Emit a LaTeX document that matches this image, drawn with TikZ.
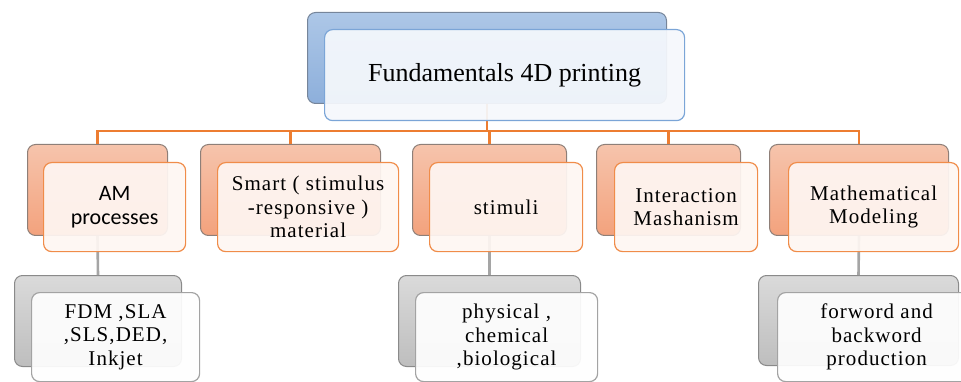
\documentclass[tikz,border=0pt]{standalone}
\usepackage{fontspec}
\setmainfont{Liberation Serif}
\newfontfamily\amfont{Carlito}
\newfontfamily\spacedfont[LetterSpace=5]{Liberation Serif}
\definecolor{blueTop}{HTML}{ADC7E7}
\definecolor{blueBot}{HTML}{8DAFDB}
\definecolor{blueEdge}{HTML}{76859A}
\definecolor{blueFront}{HTML}{F5F8FC}
\definecolor{blueFrontEdge}{HTML}{7BA5D7}
\definecolor{orTop}{HTML}{F6C4AC}
\definecolor{orBot}{HTML}{F3A27D}
\definecolor{orEdge}{HTML}{8E7F78}
\definecolor{orFront}{HTML}{FEF6F2}
\definecolor{orFrontEdge}{HTML}{F08C49}
\definecolor{busCol}{HTML}{ED7D31}
\definecolor{grTop}{HTML}{DADADA}
\definecolor{grBot}{HTML}{BEBEBE}
\definecolor{grEdge}{HTML}{8A8A8A}
\definecolor{grFront}{HTML}{FEFEFE}
\definecolor{grFrontEdge}{HTML}{A3A3A3}
\definecolor{grLine}{HTML}{A5A5A5}
\begin{document}
\begin{tikzpicture}[x=1pt,y=-1pt,
  basebox/.style={rounded corners=8pt, inner sep=0pt, anchor=north west, line width=1pt},
  blueback/.style={basebox, draw=blueEdge, top color=blueTop, bottom color=blueBot},
  bluefront/.style={basebox, draw=blueFrontEdge, fill=blueFront, fill opacity=0.93, text opacity=1, line width=1.2pt},
  orback/.style={basebox, draw=orEdge, top color=orTop, bottom color=orBot},
  orfront/.style={basebox, draw=orFrontEdge, fill=orFront, fill opacity=0.93, text opacity=1, line width=1.2pt, align=center},
  grback/.style={basebox, draw=grEdge, top color=grTop, bottom color=grBot},
  grfront/.style={basebox, draw=grFrontEdge, fill=grFront, fill opacity=0.93, text opacity=1, line width=1.2pt, align=center},
  busline/.style={draw=busCol, line width=2.2pt},
  grayline/.style={draw=grLine, line width=2.6pt},
  txt/.style={font=\spacedfont\fontsize{21}{23.5}\selectfont},
  amtxt/.style={font=\amfont\fontsize{22}{24}\selectfont}
]
\useasboundingbox (0,0) rectangle (961,382);
\clip (0,0) rectangle (961,382);
% back boxes
\node[blueback, minimum width=359pt, minimum height=91pt] (topB) at (307,12) {};
\node[orback, minimum width=140pt, minimum height=91pt] (b1) at (27,144) {};
\node[orback, minimum width=180pt, minimum height=91pt] (b2) at (200,144) {};
\node[orback, minimum width=154pt, minimum height=91pt] (b3) at (412,144) {};
\node[orback, minimum width=144pt, minimum height=91pt] (b4) at (596,144) {};
\node[orback, minimum width=179pt, minimum height=91pt] (b5) at (769,144) {};
\node[grback, minimum width=167pt, minimum height=91pt] (c1) at (14,275) {};
\node[grback, minimum width=182pt, minimum height=91pt] (c3) at (398,275) {};
\node[grback, minimum width=200pt, minimum height=90pt] (c5) at (758,275) {};
% connectors
\coordinate (bus) at (0,131);
\foreach \n in {b1,b2,b3,b4,b5}{
  \draw[busline] (topB.south) -- (topB.south |- bus) -| (\n.north);
}
\draw[grayline] (b1.south) -- (c1.north);
\draw[grayline] (b3.south) -- (c3.north);
\draw[grayline] (b5.south) -- (c5.north);
% front boxes
\node[bluefront, minimum width=360pt, minimum height=91pt, font=\fontsize{26}{28}\selectfont] (topF) at (324,29) {Fundamentals 4D printing};
\node[orfront, minimum width=142pt, minimum height=89pt, amtxt] (f1) at (43,162) {AM\\processes};
\node[orfront, minimum width=181pt, minimum height=89pt, txt] (f2) at (217,162) {Smart ( stimulus\\-responsive )\\material};
\node[orfront, minimum width=153pt, minimum height=89pt, txt] (f3) at (429,162) {stimuli};
\node[orfront, minimum width=143pt, minimum height=89pt, txt] (f4) at (614,162) {Interaction\\Mashanism};
\node[orfront, minimum width=170pt, minimum height=89pt, txt] (f5) at (788,162) {Mathematical\\Modeling};
\node[grfront, minimum width=168pt, minimum height=89pt, txt] (g1) at (31,292) {FDM ,SLA\\,SLS,DED,\\Inkjet};
\node[grfront, minimum width=182pt, minimum height=89pt, txt] (g3) at (415,292) {physical ,\\chemical\\,biological};
\node[grfront, minimum width=198pt, minimum height=89pt, txt] (g5) at (777,292) {forword and\\backword\\production};
\end{tikzpicture}
\end{document}
